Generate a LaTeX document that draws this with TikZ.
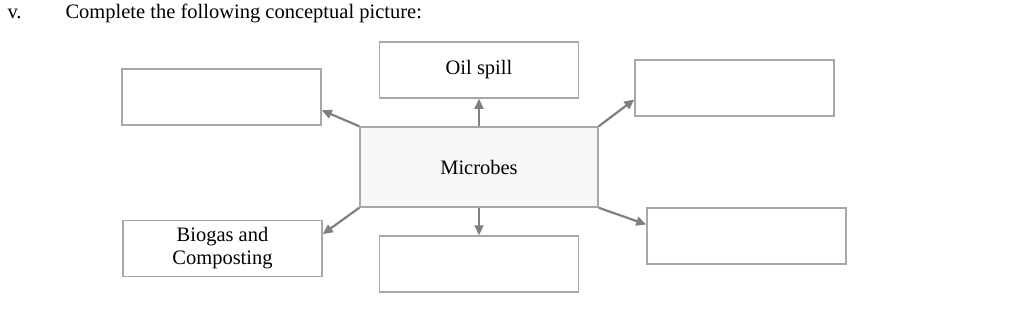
\documentclass[tikz,border=0pt]{standalone}
\usepackage{fontspec}
\setmainfont{Liberation Serif}
\usetikzlibrary{calc,arrows.meta}
\definecolor{boxgray}{RGB}{168,168,168}
\definecolor{arrgray}{RGB}{128,128,128}
\definecolor{fillgray}{RGB}{248,248,248}
\begin{document}
\begin{tikzpicture}[x=1pt,y=-1pt,
  txt/.style={font=\fontsize{20.5}{23}\selectfont},
  blank/.style={draw=boxgray,line width=1.5pt,minimum width=199pt,minimum height=56pt,inner sep=0pt,txt,align=center},
  center/.style={draw=boxgray,fill=fillgray,line width=1.5pt,minimum width=238pt,minimum height=80pt,inner sep=0pt,txt},
  conn/.style={draw=arrgray,line width=2.2pt,-{Triangle[length=10pt,width=9pt]}}]
\useasboundingbox (0,0) rectangle (1024,314);
\node[txt,anchor=base west] (num) at (4,18) {v.};
\node[txt,anchor=base west] (title) at (62,18) {Complete the following conceptual picture:};
\node[center] (m) at (479,167) {Microbes};
\node[blank] (tl) at (221.5,97) {};
\node[blank] (oil) at (479,70) {Oil spill};
\node[blank] (tr) at (734.5,88) {};
\node[blank] (bl) at (222.5,248.5) {Biogas and\\Composting};
\node[blank] (bc) at (479,264) {};
\node[blank] (br) at (746.5,236) {};
\draw[conn] (m.north west) -- ($(tl.south east)!0.27!(tl.north east)$);
\draw[conn] (m.north) -- (oil.south);
\draw[conn] (m.north east) -- ($(tr.south west)!0.3!(tr.north west)$);
\draw[conn] (m.south west) -- ($(bl.north east)!0.25!(bl.south east)$);
\draw[conn] (m.south) -- (bc.north);
\draw[conn] (m.south east) -- ($(br.north west)!0.3!(br.south west)$);
\end{tikzpicture}
\end{document}
